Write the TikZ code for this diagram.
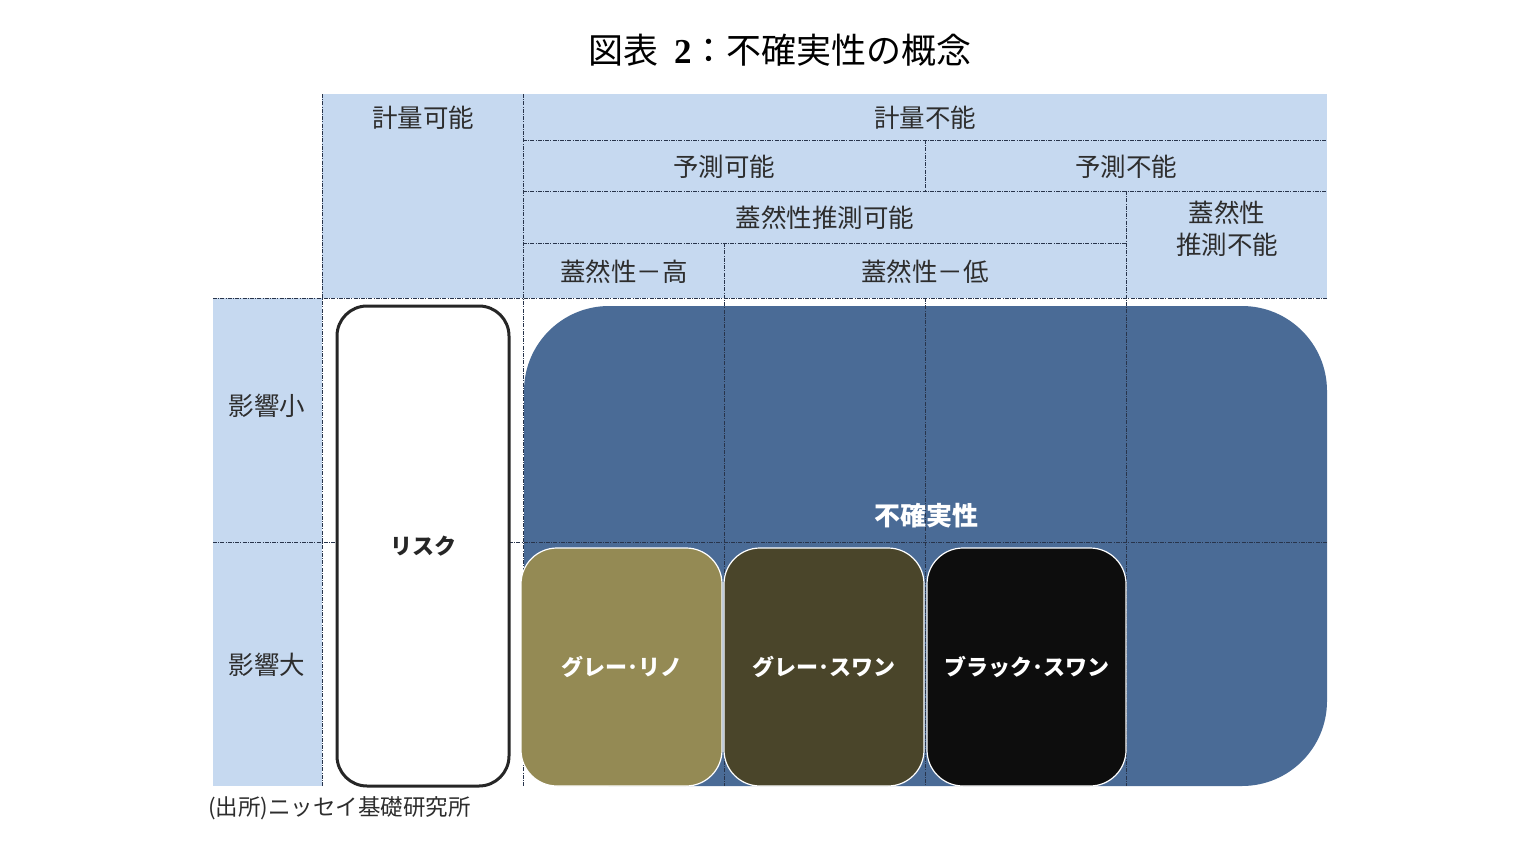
\documentclass[tikz,border=0pt]{standalone}
\usepackage{fontspec}
\setmainfont{Noto Sans CJK JP}
\newfontfamily\latinserif{Liberation Serif}
\definecolor{hdrblue}{RGB}{198,217,240}
\definecolor{uncblue}{RGB}{74,107,150}
\definecolor{olivebox}{RGB}{148,138,84}
\definecolor{darkbox}{RGB}{74,69,42}
\definecolor{blackbox}{RGB}{13,13,13}
\definecolor{gridc}{RGB}{40,52,75}
\definecolor{txtc}{RGB}{45,45,45}
\tikzset{
  gridline/.style={gridc, line width=0.7pt, dash pattern=on 4pt off 1.2pt on 1pt off 1.2pt},
  hdrtext/.style={font=\fontsize{25.5}{29}\selectfont, text=txtc, inner sep=0pt, align=center},
  boxtext/.style={font=\fontsize{22}{26}\selectfont\bfseries, text=white},
  smallbox/.style={draw=white, line width=1.2pt, rounded corners=36pt, minimum height=238pt, inner sep=0pt, boxtext},
}
\begin{document}
\begin{tikzpicture}[x=1pt,y=-1pt]
\useasboundingbox (0,0) rectangle (1533,859);
% title
\node[font=\fontsize{35}{39}\selectfont, inner sep=0pt] (title) at (780,50) {図表\ \ {\latinserif\bfseries 2}：不確実性の概念};
% header fills
\fill[hdrblue] (322,94) rectangle (1327,298);
\fill[hdrblue] (213,298) rectangle (322,786);
% big uncertainty box
\node[fill=uncblue, rounded corners=85pt, minimum width=803pt, minimum height=480pt, inner sep=0pt] (unc) at (925.5,546) {};
% grid lines
\draw[gridline] (322,94) -- (322,786);
\draw[gridline] (523,94) -- (523,786);
\draw[gridline] (523,140) -- (1327,140);
\draw[gridline] (523,191) -- (1327,191);
\draw[gridline] (523,243) -- (1126,243);
\draw[gridline] (213,298) -- (1327,298);
\draw[gridline] (213,542) -- (1327,542);
\draw[gridline] (925,140) -- (925,191);
\draw[gridline] (1126,191) -- (1126,786);
\draw[gridline] (724,243) -- (724,786);
\draw[gridline] (925,298) -- (925,786);
% header texts
\node[hdrtext] (kk) at (423,118) {計量可能};
\node[hdrtext] (kf) at (925,118) {計量不能};
\node[hdrtext] (yk) at (724,167) {予測可能};
\node[hdrtext] (yf) at (1126,167) {予測不能};
\node[hdrtext] (gk) at (825,218) {蓋然性推測可能};
\node[hdrtext] (gf1) at (1227,213) {蓋然性};
\node[hdrtext] (gf2) at (1227,245) {推測不能};
\node[hdrtext] (gh) at (624,272) {蓋然性－高};
\node[hdrtext] (gl) at (925,272) {蓋然性－低};
\node[hdrtext] (es) at (267,406) {影響小};
\node[hdrtext] (el) at (267,665) {影響大};
% risk box
\node[draw=black!85, fill=white, line width=3pt, rounded corners=30pt, minimum width=172pt, minimum height=480pt, inner sep=0pt, font=\fontsize{22}{26}\selectfont\bfseries, text=black!85] (risk) at (423,546) {リスク};
% uncertainty label
\node[font=\fontsize{26}{30}\selectfont\bfseries, text=white, inner sep=0pt] (unclab) at (926,516) {不確実性};
% small boxes
\node[smallbox, fill=olivebox, minimum width=201pt] (rhino) at (621.5,667) {グレー･リノ};
\node[smallbox, fill=darkbox, minimum width=200pt] (gswan) at (824,667) {グレー･スワン};
\node[smallbox, fill=blackbox, minimum width=199pt] (bswan) at (1026.5,667) {ブラック･スワン};
% source
\node[anchor=west, font=\fontsize{22.5}{26}\selectfont, text=txtc, inner sep=0pt] (src) at (208,808) {(出所)ニッセイ基礎研究所};
\end{tikzpicture}
\end{document}
